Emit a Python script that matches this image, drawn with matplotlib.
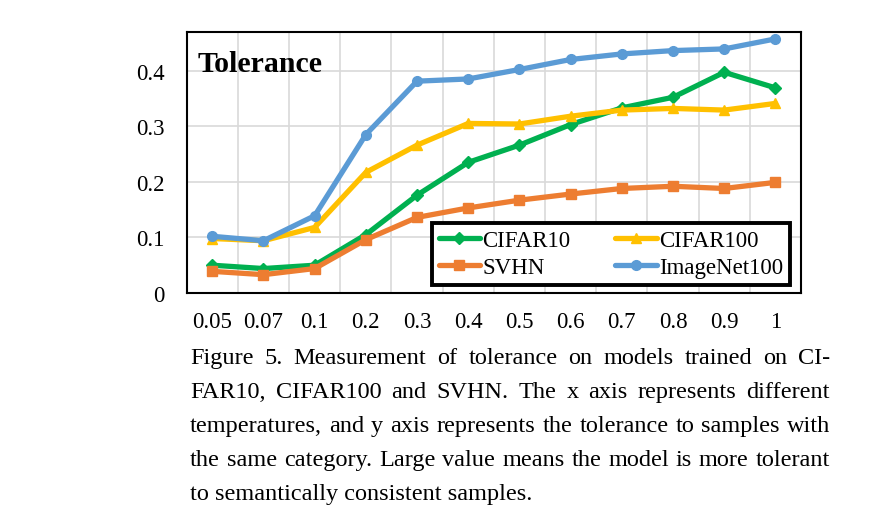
import matplotlib
matplotlib.use("Agg")
import matplotlib.pyplot as plt
import numpy as np

temperatures = ["0.05", "0.07", "0.1", "0.2", "0.3", "0.4", "0.5", "0.6", "0.7", "0.8", "0.9", "1"]
cifar10 = [0.050, 0.044, 0.050, 0.105, 0.176, 0.235, 0.266, 0.303, 0.333, 0.352, 0.397, 0.369]
cifar100 = [0.098, 0.094, 0.118, 0.217, 0.266, 0.305, 0.304, 0.318, 0.329, 0.332, 0.329, 0.341]
svhn = [0.039, 0.033, 0.044, 0.096, 0.136, 0.153, 0.167, 0.178, 0.188, 0.192, 0.188, 0.199]
imagenet100 = [0.102, 0.094, 0.139, 0.285, 0.381, 0.385, 0.402, 0.420, 0.430, 0.436, 0.439, 0.457]
y_ticks = [0, 0.1, 0.2, 0.3, 0.4]
y_tick_labels = ["0", "0.1", "0.2", "0.3", "0.4"]

caption_lines = [
    "Figure 5. Measurement of tolerance on models trained on CI-",
    "FAR10, CIFAR100 and SVHN. The x axis represents different",
    "temperatures, and y axis represents the tolerance to samples with",
    "the same category. Large value means the model is more tolerant",
    "to semantically consistent samples.",
]

SERIF = ["Liberation Serif", "DejaVu Serif"]
plt.rcParams["font.family"] = SERIF

fig = plt.figure(figsize=(8.89, 5.10), dpi=100)
ax = fig.add_axes([0.210, 0.4235, 0.691, 0.5124])

x = np.arange(len(temperatures))
series = [
    ("CIFAR10", cifar10, "#00B050", "D", 6.5),
    ("CIFAR100", cifar100, "#FFC000", "^", 7),
    ("SVHN", svhn, "#ED7D31", "s", 6.5),
    ("ImageNet100", imagenet100, "#5B9BD5", "o", 7),
]
handles = {}
for name, vals, color, marker, ms in series:
    h, = ax.plot(x, vals, color=color, marker=marker, markersize=ms,
                 linewidth=3.8, label=name, solid_joinstyle="round",
                 solid_capstyle="round", zorder=3)
    handles[name] = h

ax.set_xlim(-0.5, len(temperatures) - 0.5)
ax.set_ylim(0, 0.47)
ax.set_xticks(x)
ax.set_xticklabels(temperatures, fontsize=16.5)
ax.set_xticks(np.arange(len(temperatures) - 1) + 0.5, minor=True)
ax.set_yticks(y_ticks)
ax.set_yticklabels(y_tick_labels, fontsize=16.5)
ax.tick_params(axis="both", which="both", length=0)
ax.tick_params(axis="x", pad=13)
ax.tick_params(axis="y", pad=16)
ax.grid(True, axis="y", which="major", color="#d9d9d9", linewidth=1.2, zorder=0)
ax.grid(True, axis="x", which="minor", color="#d9d9d9", linewidth=1.2, zorder=0)
ax.grid(False, axis="x", which="major")
for sp in ax.spines.values():
    sp.set_color("black")
    sp.set_linewidth(1.5)

ax.text(0.017, 0.88, "Tolerance", transform=ax.transAxes, fontsize=21.5,
        fontweight="bold", va="center", ha="left")

order = ["CIFAR10", "SVHN", "CIFAR100", "ImageNet100"]
leg = ax.legend([handles[n] for n in order], order, ncol=2, loc="lower left",
                bbox_to_anchor=(0.399, 0.032, 0.583, 0.24), mode="expand",
                borderaxespad=0, fontsize=16.5, handlelength=1.8,
                handletextpad=0.1, labelspacing=0.25, borderpad=0.3,
                fancybox=False, framealpha=1, edgecolor="black")
leg.get_frame().set_linewidth(2.8)

# justified caption
fig.canvas.draw()
renderer = fig.canvas.get_renderer()
x_left, x_right = 190, 830
base_y = 364
line_gap = 34
cap_fs = 17.5
for i, line in enumerate(caption_lines):
    y_fig = 1 - (base_y + i * line_gap) / 510
    words = line.split(" ")
    if i == len(caption_lines) - 1:
        fig.text(x_left / 889, y_fig, line, fontsize=cap_fs, va="baseline", ha="left")
        continue
    texts = [fig.text(0, y_fig, w, fontsize=cap_fs, va="baseline", ha="left") for w in words]
    widths = [t.get_window_extent(renderer).width for t in texts]
    gap = (x_right - x_left - sum(widths)) / (len(words) - 1)
    pos = x_left
    for t, w in zip(texts, widths):
        t.set_x(pos / 889)
        pos += w + gap

fig.savefig("out.png", dpi=100, facecolor="white")
